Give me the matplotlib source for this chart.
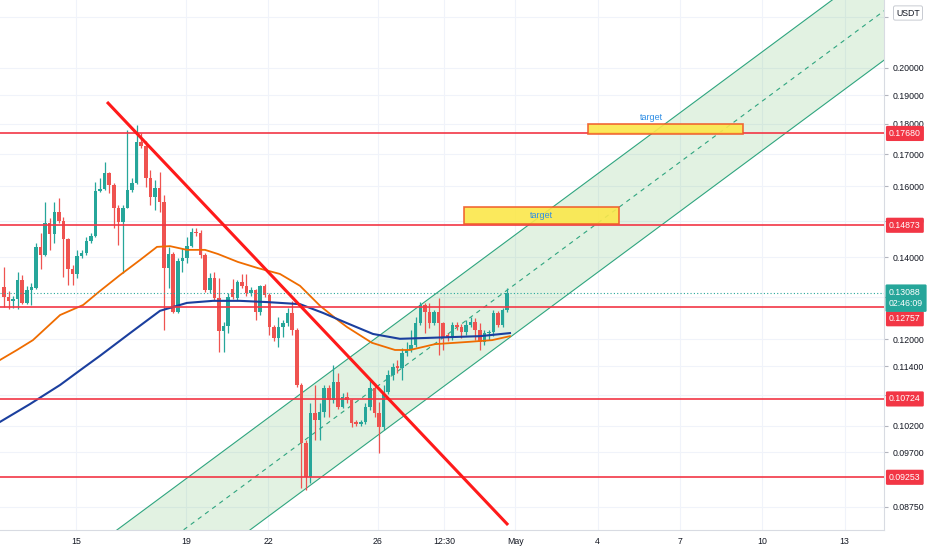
import matplotlib
matplotlib.use("Agg")
import matplotlib.pyplot as plt
from matplotlib.patches import Rectangle
from matplotlib.ticker import NullLocator, NullFormatter
import numpy as np

plt.rcParams['font.family'] = ['Liberation Sans', 'DejaVu Sans']

# 4h candles, SOMETHING/USDT, from 12 Apr
opens = [.1323, .1300, .1290, .1295, .1342, .1285, .1317, .1322, .1428, .1406,
         .1494, .1463, .1525, .1499, .1449, .1370, .1357, .1404, .1411, .1444,
         .1458, .1586, .1592, .1641, .1605, .1537, .1496, .1537, .1589, .1611,
         .1740, .1727, .1626, .1569, .1595, .1554, .1372, .1409, .1263, .1390,
         .1398, .1430, .1469, .1466, .1406, .1317, .1347, .1297, .1219, .1231,
         .1320, .1297, .1337, .1327, .1309, .1317, .1263, .1327, .1304, .1228,
         .1203, .1228, .1237, .1261, .1221, .1101, .0987, .0926, .1044, .1031,
         .1046, .1095, .1070, .1107, .1056, .1076, .1070, .1025, .1023, .1027,
         .1056, .1095, .1044, .1017, .1086, .1122, .1139, .1137, .1169, .1176,
         .1187, .1237, .1280, .1263, .1237, .1263, .1237, .1210, .1203, .1233,
         .1228, .1217, .1233, .1239, .1221, .1194, .1214, .1217, .1261, .1233,
         .1268]
highs = [.1376, .1313, .1302, .1362, .1354, .1327, .1334, .1438, .1466, .1554,
         .1508, .1554, .1566, .1510, .1452, .1380, .1420, .1420, .1455, .1466,
         .1614, .1626, .1676, .1644, .1611, .1545, .1545, .1780, .1626, .1796,
         .1770, .1743, .1650, .1620, .1644, .1575, .1428, .1414, .1398, .1425,
         .1455, .1480, .1480, .1474, .1411, .1359, .1362, .1347, .1239, .1309,
         .1344, .1342, .1357, .1357, .1324, .1320, .1329, .1332, .1309, .1233,
         .1251, .1244, .1273, .1290, .1226, .1105, .0993, .1064, .1101, .1064,
         .1101, .1101, .1143, .1126, .1084, .1087, .1072, .1031, .1031, .1064,
         .1111, .1105, .1066, .1101, .1132, .1147, .1154, .1180, .1194, .1221,
         .1251, .1287, .1285, .1285, .1268, .1297, .1240, .1215, .1239, .1239,
         .1235, .1244, .1251, .1248, .1237, .1221, .1221, .1268, .1265, .1273,
         .1322]
lows = [.1276, .1270, .1273, .1270, .1282, .1282, .1280, .1320, .1370, .1404,
        .1420, .1438, .1494, .1349, .1329, .1329, .1347, .1398, .1406, .1438,
        .1455, .1583, .1589, .1580, .1480, .1433, .1359, .1537, .1583, .1608,
        .1720, .1599, .1545, .1531, .1525, .1221, .1322, .1261, .1261, .1362,
        .1385, .1428, .1458, .1398, .1312, .1309, .1292, .1171, .1171, .1214,
        .1295, .1292, .1322, .1302, .1302, .1244, .1256, .1300, .1210, .1196,
        .1183, .1205, .1230, .1210, .1097, .0906, .0903, .0916, .0993, .0993,
        .1037, .1037, .1064, .1052, .1054, .1064, .1017, .1019, .1019, .1023,
        .1050, .1037, .0969, .1012, .1082, .1111, .1126, .1111, .1163, .1171,
        .1183, .1233, .1214, .1226, .1233, .1165, .1176, .1196, .1198, .1221,
        .1203, .1210, .1228, .1198, .1176, .1187, .1198, .1207, .1228, .1228,
        .1263]
closes = [.1300, .1290, .1295, .1342, .1285, .1317, .1323, .1428, .1406, .1494,
          .1463, .1525, .1499, .1449, .1370, .1357, .1404, .1411, .1444, .1458,
          .1586, .1592, .1641, .1605, .1537, .1496, .1537, .1589, .1611, .1740,
          .1727, .1626, .1569, .1595, .1554, .1372, .1409, .1263, .1390, .1398,
          .1430, .1469, .1466, .1406, .1317, .1347, .1297, .1219, .1231, .1300,
          .1300, .1337, .1327, .1309, .1317, .1263, .1327, .1304, .1228, .1203,
          .1228, .1237, .1261, .1221, .1101, .0987, .0926, .1044, .1031, .1046,
          .1095, .1070, .1107, .1056, .1076, .1070, .1025, .1023, .1027, .1056,
          .1095, .1044, .1017, .1086, .1122, .1139, .1137, .1169, .1176, .1187,
          .1237, .1280, .1263, .1237, .1263, .1237, .1203, .1203, .1233, .1228,
          .1217, .1233, .1239, .1221, .1194, .1214, .1217, .1261, .1233, .1268,
          .13088]

# moving averages (day of April, price)
ma_fast_t = [12.23, 12.85, 13.43, 14.42, 15.26, 15.87, 16.60, 17.33, 17.95, 18.42,
             19.04, 19.70, 20.17, 20.90, 21.63, 22.43, 23.16, 23.89, 24.54, 24.87,
             25.78, 26.62, 27.17, 28.08, 29.28, 30.16, 30.81]
ma_fast = [.1154, .1176, .1198, .1256, .1280, .1314, .1354, .1393, .1428, .1430,
           .1420, .1420, .1409, .1388, .1372, .1357, .1327, .1278, .1244, .1228,
           .1192, .1176, .1176, .1189, .1194, .1198, .1207]
ma_slow_t = [12.23, 13.32, 14.42, 15.15, 15.87, 16.97, 18.06, 19.04, 19.99, 20.97,
             21.96, 23.16, 24.00, 24.87, 25.82, 26.80, 27.79, 28.73, 29.72, 30.81]
ma_slow = [.1027, .1062, .1101, .1132, .1163, .1214, .1266, .1285, .1290, .1290,
           .1287, .1282, .1261, .1237, .1212, .1201, .1203, .1205, .1207, .1214]

levels = [0.17680, 0.14873, 0.12757, 0.10724, 0.09253]
last_price = 0.13088
countdown = "02:46:09"

trend_t = [16.13, 30.74]
trend_p = [0.1876, 0.08458]

chan_t = [21.34, 44.44]
chan_low = [0.0838, 0.2030]
chan_ratio = 1.204

targets = [  # t0, t1, p0, p1, text t, text p
    (29.15, 34.79, 0.1491, 0.1540, 31.97, 0.1514),
    (33.66, 39.31, 0.1765, 0.1799, 35.97, 0.1821),
]

# scale ticks; the ones hidden behind the price labels keep only their grid line
ytick_vals = [0.22, 0.20, 0.19, 0.18, 0.17, 0.16, 0.15, 0.14, 0.13,
              0.12, 0.114, 0.108, 0.102, 0.097, 0.0875]
ytick_hidden = [0.22, 0.13, 0.108]
xtick_days = [15, 19, 22, 26, 28.4, 31, 34, 37, 40, 43]
xtick_labels = ['15', '19', '22', '26', '12:30', 'May', '4', '7', '10', '13']

UP = '#26a69a'
DOWN = '#ef5350'
LINE_RED = '#f23645'
CHAN = '#2fa57f'

fig = plt.figure(figsize=(9.32, 5.5), dpi=100)
ax = fig.add_axes([0, 20 / 550, 884 / 932, 530 / 550])
ax.set_yscale('log')
ax.set_xlim(12.231, 44.435)
ax.set_ylim(0.083786, 0.22732)

# channel
def ext(t0, p0, t1, p1, t):
    return p0 * (p1 / p0) ** ((t - t0) / (t1 - t0))

te = np.array([10.0, 46.0])
low_e = ext(chan_t[0], chan_low[0], chan_t[1], chan_low[1], te)
ax.fill_between(te, low_e, low_e * chan_ratio, color='#4caf50', alpha=0.16,
                lw=0, zorder=1)
ax.plot(te, low_e, color=CHAN, lw=0.8, zorder=2)
ax.plot(te, low_e * chan_ratio, color=CHAN, lw=0.8, zorder=2)
ax.plot(te, low_e * np.sqrt(chan_ratio), color=CHAN, lw=0.8,
        dashes=(4, 4), zorder=2)

# candles
n = len(closes)
t = 12.375 + np.arange(n) / 6
o = np.array(opens)
c = np.array(closes)
colors = [UP if cc >= oo else DOWN for oo, cc in zip(o, c)]
ax.vlines(t, lows, highs, colors=colors, lw=0.9, zorder=3)
bottom = np.minimum(o, c)
height = np.maximum(np.abs(c - o), 0.00035)
ax.bar(t, height, bottom=bottom, width=0.128, color=colors, lw=0, zorder=3)

# moving averages
ax.plot(ma_fast_t, ma_fast, color='#ef6c00', lw=1.3, zorder=4)
ax.plot(ma_slow_t, ma_slow, color='#1b3f9e', lw=1.5, zorder=4)

# levels
for lv in levels:
    ax.axhline(lv, color=LINE_RED, lw=1.2, zorder=5)
ax.axhline(last_price, color=UP, lw=0.8, ls=(0, (1, 2)), zorder=5)

# targets
for t0, t1, p0, p1, tt, tp in targets:
    ax.add_patch(Rectangle((t0, p0), t1 - t0, p1 - p0, facecolor='#fbe74a',
                           alpha=0.9, edgecolor='#f05a28', lw=1.2, zorder=5))
    ax.text(tt, tp, 'target', color='#2f8ee5', fontsize=6.5,
            ha='center', va='center', zorder=7)

# downtrend line
ax.plot(trend_t, trend_p, color='#ff1a1a', lw=2.2, zorder=6,
        solid_capstyle='butt')

# axes styling
ax.yaxis.tick_right()
ax.set_yticks(ytick_vals)
ax.set_yticklabels(['' if v in ytick_hidden else '%.5f' % v for v in ytick_vals])
ax.yaxis.set_minor_locator(NullLocator())
ax.yaxis.set_minor_formatter(NullFormatter())
ax.set_xticks(xtick_days)
ax.set_xticklabels(xtick_labels)
ax.tick_params(axis='y', labelsize=6.3, length=3, color='#b2b5be',
               labelcolor='#131722', pad=3)
ax.tick_params(axis='x', labelsize=6.3, length=0, labelcolor='#131722', pad=5)
ax.grid(True, color='#f0f3fa', lw=0.8, zorder=0)
ax.set_axisbelow(True)
for s in ['top', 'left']:
    ax.spines[s].set_visible(False)
for s in ['right', 'bottom']:
    ax.spines[s].set_color('#d8dbe2')
    ax.spines[s].set_linewidth(0.8)

# price labels on the scale
label_kw = dict(xycoords=('axes fraction', 'data'), textcoords='offset pixels',
                fontsize=6.3, color='white', ha='left', va='center',
                annotation_clip=False, zorder=10)
for lv in levels:
    dy = -12 if lv == 0.12757 else 0
    ax.annotate('%.5f' % lv, xy=(1.0, lv), xytext=(5, dy),
                bbox=dict(boxstyle='round,pad=0.35,rounding_size=0.15',
                          fc=LINE_RED, ec='none'), **label_kw)
ax.annotate('%.5f\n%s' % (last_price, countdown), xy=(1.0, last_price),
            xytext=(5, -5), linespacing=1.35,
            bbox=dict(boxstyle='round,pad=0.4,rounding_size=0.15',
                      fc=UP, ec='none'), **label_kw)

fig.text(908 / 932, 1 - 13 / 550, 'USDT', fontsize=6.3, color='#131722',
         ha='center', va='center', zorder=10,
         bbox=dict(boxstyle='round,pad=0.3,rounding_size=0.2', fc='white',
                   ec='#c8cbd2', lw=0.7))

fig.savefig('out.png', dpi=100, facecolor='white')
